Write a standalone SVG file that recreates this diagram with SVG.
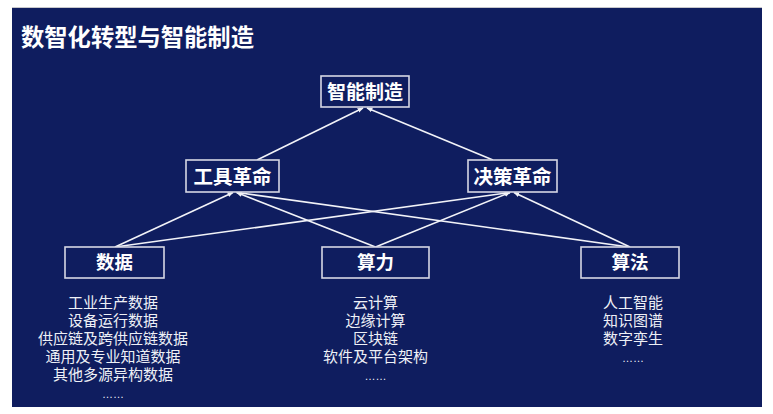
<svg xmlns="http://www.w3.org/2000/svg" width="773" height="414" viewBox="0 0 773 414">
  <defs>
    <style>
      .bg { fill: #0f1d5f; }
      .box { fill: #0f1d5f; stroke: #d6d8e4; stroke-width: 1.6; }
      .lbl { font-family: "Liberation Sans", "Noto Sans CJK SC", sans-serif; font-weight: bold; fill: #ffffff; text-anchor: middle; }
      .lst { font-family: "Liberation Sans", "Noto Sans CJK SC", sans-serif; font-size: 15px; fill: #eef0f6; text-anchor: middle; }
      .dots { font-family: "Liberation Sans", "Noto Sans CJK SC", sans-serif; font-size: 11px; fill: #eef0f6; text-anchor: middle; }
      .conn { stroke: #f2f3f8; stroke-width: 1.6; fill: none; marker-end: url(#ah); }
    </style>
    <marker id="ah" viewBox="0 0 10 10" refX="9" refY="5" markerWidth="6" markerHeight="6" markerUnits="userSpaceOnUse" orient="auto">
      <path d="M0,1 L10,5 L0,9 z" fill="#f2f3f8"/>
    </marker>
  </defs>

  <rect class="bg" x="12" y="8" width="750" height="399"/>
  <line x1="12" y1="7.5" x2="762" y2="7.5" stroke="#c8c8cc" stroke-width="1"/>

  <text id="title" x="21" y="46" font-family="Liberation Sans, Noto Sans CJK SC, sans-serif" font-weight="bold" font-size="23.3" fill="#ffffff">数智化转型与智能制造</text>

  <g id="connectors">
    <line class="conn" x1="257" y1="160" x2="363" y2="108"/>
    <line class="conn" x1="493" y1="160" x2="367" y2="108"/>
    <line class="conn" x1="115" y1="247" x2="233" y2="192.5"/>
    <line class="conn" x1="115" y1="247" x2="510" y2="192.5"/>
    <line class="conn" x1="375.5" y1="247" x2="236.5" y2="192.5"/>
    <line class="conn" x1="375.5" y1="247" x2="510" y2="192.5"/>
    <line class="conn" x1="629" y1="247" x2="237" y2="192.5"/>
    <line class="conn" x1="630" y1="247" x2="514" y2="192.5"/>
  </g>

  <g id="node-zhineng">
    <rect class="box" x="321" y="76" width="88" height="31"/>
    <text class="lbl" x="365" y="99" font-size="19">智能制造</text>
  </g>

  <g id="node-gongju">
    <rect class="box" x="186" y="160" width="93" height="32"/>
    <text class="lbl" x="232.5" y="183.5" font-size="19.5">工具革命</text>
  </g>

  <g id="node-juece">
    <rect class="box" x="468" y="160" width="89" height="32"/>
    <text class="lbl" x="512.5" y="183.5" font-size="19.5">决策革命</text>
  </g>

  <g id="node-shuju">
    <rect class="box" x="65" y="247" width="99" height="31"/>
    <text class="lbl" x="114.5" y="269.2" font-size="18.5">数据</text>
    <text class="lst" x="113" y="308">工业生产数据</text>
    <text class="lst" x="113" y="326">设备运行数据</text>
    <text class="lst" x="113" y="344">供应链及跨供应链数据</text>
    <text class="lst" x="113" y="362">通用及专业知道数据</text>
    <text class="lst" x="113" y="380">其他多源异构数据</text>
    <text class="dots" x="113" y="398">……</text>
  </g>

  <g id="node-suanli">
    <rect class="box" x="322" y="247" width="107" height="31"/>
    <text class="lbl" x="375.5" y="269.2" font-size="18.5">算力</text>
    <text class="lst" x="375.5" y="308">云计算</text>
    <text class="lst" x="375.5" y="326">边缘计算</text>
    <text class="lst" x="375.5" y="344">区块链</text>
    <text class="lst" x="375.5" y="362">软件及平台架构</text>
    <text class="dots" x="375.5" y="380">……</text>
  </g>

  <g id="node-suanfa">
    <rect class="box" x="581" y="247" width="98" height="31"/>
    <text class="lbl" x="630" y="269.2" font-size="18.5">算法</text>
    <text class="lst" x="633" y="308">人工智能</text>
    <text class="lst" x="633" y="326">知识图谱</text>
    <text class="lst" x="633" y="344">数字孪生</text>
    <text class="dots" x="633" y="362">……</text>
  </g>
</svg>
